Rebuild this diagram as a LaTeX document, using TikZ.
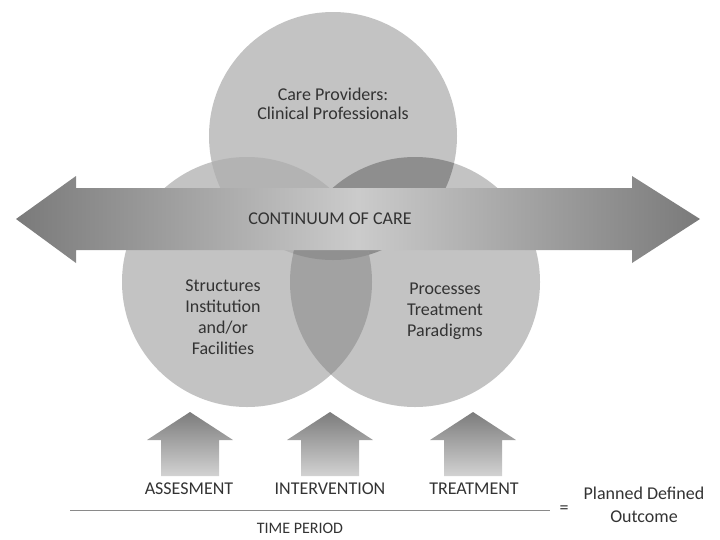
\documentclass[tikz,border=0pt]{standalone}
\usepackage{fontspec}
\setmainfont{Carlito}
\definecolor{circbase}{HTML}{C3C3C3}
\definecolor{topleft}{HTML}{B3B3B3}
\definecolor{topright}{HTML}{8E8E8E}
\definecolor{leftright}{HTML}{A2A2A2}
\definecolor{triple}{HTML}{909090}
\definecolor{arrowend}{HTML}{7A7A7A}
\definecolor{arrowmid}{HTML}{CBCBCB}
\definecolor{uptop}{HTML}{7C7C7C}
\definecolor{upbottom}{HTML}{D2D2D2}
\definecolor{txtgray}{HTML}{333333}
\definecolor{rulegray}{HTML}{8A8A8A}
\begin{document}
\begin{tikzpicture}[x=1pt,y=-1pt,
  lbl/.style={text=txtgray, font=\fontsize{18}{21}\selectfont, align=center, inner sep=0pt},
  caps/.style={text=txtgray, font=\fontsize{18}{21}\selectfont, inner sep=0pt},
  uparrow/.style={top color=uptop, bottom color=upbottom}]
\useasboundingbox (0,0) rectangle (720,539);

% the three circles
\def\circtop{(333,136) circle[radius=124pt]}
\def\circleft{(247,282) circle[radius=125pt]}
\def\circright{(415,282) circle[radius=125pt]}
\fill[circbase] \circtop;
\fill[circbase] \circleft;
\fill[circbase] \circright;
% pairwise overlaps
\begin{scope}\clip \circtop; \fill[topleft] \circleft; \end{scope}
\begin{scope}\clip \circtop; \fill[topright] \circright; \end{scope}
\begin{scope}\clip \circleft; \fill[leftright] \circright; \end{scope}
% common part of all three
\begin{scope}\clip \circtop; \clip \circleft; \fill[triple] \circright; \end{scope}

% continuum arrow
\shade[left color=arrowend, right color=arrowend, middle color=arrowmid]
  (16,219) -- (76,176) -- (76,188) -- (632,188) -- (632,176) -- (700,219)
  -- (632,263) -- (632,250) -- (76,250) -- (76,263) -- cycle;
\node[caps] (cont) at (330,219) {CONTINUUM OF CARE};

% circle labels
\node[lbl, font=\fontsize{18}{19}\selectfont] (prov) at (333,104) {Care Providers:\\Clinical Professionals};
\node[lbl] (struct) at (223,317) {Structures\\Institution\\and/or\\Facilities};
\node[lbl] (proc) at (445,311) {Processes\\Treatment\\Paradigms};

% upward arrows
\foreach \cx in {190,330,473}{
  \shade[uparrow] (\cx,412) -- ({\cx+43},440) -- ({\cx+29},440) -- ({\cx+29},476)
    -- ({\cx-29},476) -- ({\cx-29},440) -- ({\cx-43},440) -- cycle;
}
\node[caps] (assess) at (189,489) {ASSESMENT};
\node[caps] (interv) at (330,489) {INTERVENTION};
\node[caps] (treat) at (474,489) {TREATMENT};

% time axis
\coordinate (tl) at (70,510);
\coordinate (tr) at (550,510);
\draw[rulegray, line width=1pt] (tl) -- (tr);
\node[caps] (eq) at (564,510) {=};
\node[lbl, font=\fontsize{18}{23}\selectfont] (outcome) at (644,505) {Planned Defined\\Outcome};
\node[caps, font=\fontsize{16}{19}\selectfont] (time) at (300,528) {TIME PERIOD};
\end{tikzpicture}
\end{document}
